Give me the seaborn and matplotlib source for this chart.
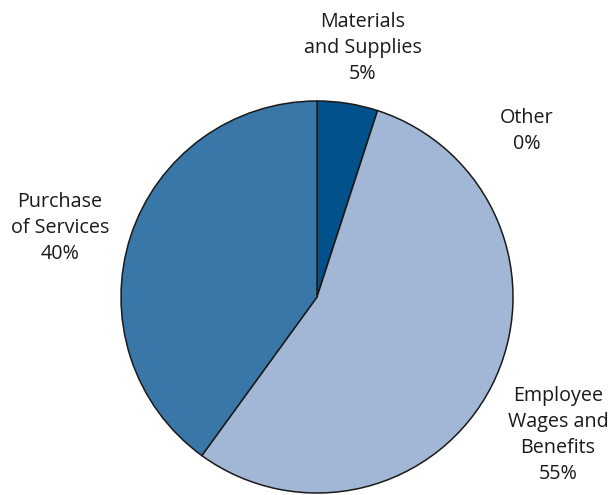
import matplotlib
matplotlib.use("Agg")
import matplotlib.pyplot as plt
import seaborn as sns

categories = ["Materials\nand Supplies", "Other", "Employee\nWages and\nBenefits", "Purchase\nof Services"]
values = [5, 0, 55, 40]
colors = ["#02518A", "#7F7F7F", "#A2B7D5", "#3877A8"]

sns.set_theme(style="white")
plt.rcParams["font.family"] = ["Open Sans", "DejaVu Sans"]

fig = plt.figure(figsize=(6.12, 4.95), dpi=100)
W, H = 612, 495
cx, cy, r = 317, 297, 196
ax = fig.add_axes([(cx - r) / W, (H - cy - r) / H, 2 * r / W, 2 * r / H])

wedges, _ = ax.pie(values, colors=colors, startangle=90, counterclock=False,
                   wedgeprops=dict(edgecolor="#1a1a1a", linewidth=1.1))
ax.set_xlim(-1, 1)
ax.set_ylim(-1, 1)
ax.set_aspect("equal")
ax.axis("off")

# label positions (pixel centres)
label_px = [(363, 48), (527, 131), (558, 435), (60, 228)]
for cat, val, (px, py) in zip(categories, values, label_px):
    ax.text((px - cx) / r, (cy - py) / r, f"{cat}\n{val}%", ha="center", va="center",
            fontsize=14.2, linespacing=1.4, color="#1a1a1a", clip_on=False)

fig.savefig("out.png", dpi=100)
